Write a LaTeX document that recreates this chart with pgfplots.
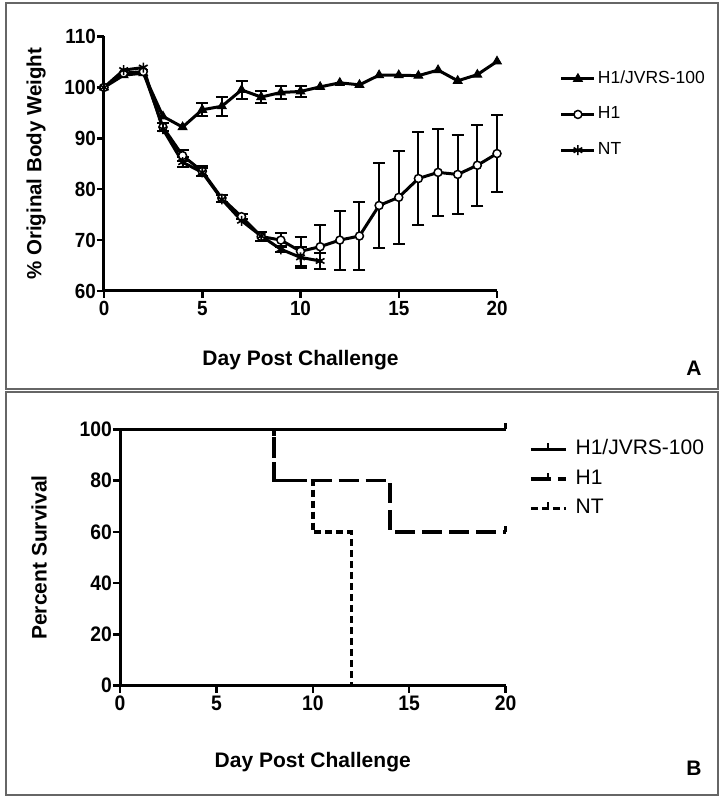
\documentclass[border=0pt]{standalone}
\usepackage{pgfplots}
\pgfplotsset{compat=1.18}
\usepackage{fontspec}
\setmainfont{Liberation Sans}
\newfontfamily\condfont[FakeStretch=0.92]{Liberation Sans}
\pgfdeclareplotmark{uptick}{\pgfpathmoveto{\pgfpointorigin}\pgfpathlineto{\pgfpoint{0pt}{\pgfplotmarksize}}\pgfusepathqstroke}
\pgfplotsset{
  common/.style={
    scale only axis, clip=false,
    axis lines=left, axis line style={line width=3pt,-,black},
    tick align=outside, major tick length=7pt,
    tick style={line width=2.5pt,black},
    /pgf/number format/assume math mode=true,
    xticklabel style={inner sep=3pt},
    yticklabel style={inner sep=1pt},
    label style={font=\fontsize{21}{21}\selectfont\bfseries},
    xmin=0, xmax=20, xtick={0,5,10,15,20},
    legend cell align=left,
  },
  ebar/.style={forget plot, only marks, mark=none,
    error bars/.cd, y dir=both, y explicit,
    error bar style={line width=2pt, solid, draw=black},
    error mark options={rotate=90, mark size=6pt, line width=2pt, black}},
}
\begin{document}
\begin{tikzpicture}
\path[use as bounding box] (0pt,0pt) rectangle (724pt,797pt);
\draw[line width=1.5pt, black!60] (6pt,408pt) rectangle (718pt,794pt);
\draw[line width=1.5pt, black!60] (6pt,2pt) rectangle (718pt,405pt);

% ---------------- Panel A ----------------
\begin{axis}[common,
  at={(104pt,506pt)}, anchor=south west, width=393pt, height=254.5pt,
  tick label style={font=\condfont\fontsize{20.5}{20.5}\selectfont\bfseries},
  ymin=60, ymax=110, ytick={60,70,80,90,100,110},
  xlabel={Day Post Challenge}, ylabel={\% Original Body Weight},
  xlabel style={at={(axis description cs:0.5,-0.271)}, anchor=center},
  ylabel style={at={(axis description cs:-0.173,0.5)}, anchor=center, font=\fontsize{20.5}{20.5}\selectfont\bfseries},
  legend style={at={(axis description cs:1.152,0.876)}, anchor=north west, draw=none, fill=none,
    font=\fontsize{17.5}{17.5}\selectfont,
    nodes={inner sep=0pt, text height=13pt, text depth=4pt}, row sep=18.7pt,
    /tikz/every odd column/.append style={column sep=2pt}},
  legend image code/.code={\draw[mark repeat=2,mark phase=2,#1] plot coordinates {(0pt,0pt) (16.5pt,0pt) (33pt,0pt)};},
]
% error bars
\addplot[ebar] coordinates {(5,95.6) +- (0,1.3) (6,96.3) +- (0,1.9) (7,99.5) +- (0,1.8) (8,98.1) +- (0,1.2) (9,99.0) +- (0,1.2) (10,99.2) +- (0,1.0)};
\addplot[ebar] coordinates {(3,92.2) +- (0,0.8) (4,86.6) +- (0,1.1) (5,83.5) +- (0,1.0) (6,78.2) +- (0,0.7) (7,74.6) +- (0,0.5) (8,70.7) +- (0,0.8) (9,70.0) +- (0,1.4) (10,67.8) +- (0,2.8) (11,68.7) +- (0,4.3) (12,70.0) +- (0,5.8) (13,70.8) +- (0,6.7) (14,76.8) +- (0,8.3) (15,78.4) +- (0,9.1) (16,82.1) +- (0,9.2) (17,83.3) +- (0,8.5) (18,82.9) +- (0,7.8) (19,84.7) +- (0,8.0) (20,87.0) +- (0,7.6)};
\addplot[ebar] coordinates {(4,85.3) +- (0,1.0) (5,83.3) +- (0,0.8) (9,68.2) +- (0,0.6) (10,66.6) +- (0,2.1) (11,65.9) +- (0,1.6)};
% series
\addplot[black, line width=3pt, mark=triangle*, mark size=5pt, mark options={solid, line width=1pt}] coordinates {
(0,100) (1,102.4) (2,102.8) (3,94.3) (4,92.2) (5,95.6) (6,96.3) (7,99.5) (8,98.1) (9,99.0) (10,99.2)
(11,100.1) (12,100.9) (13,100.5) (14,102.4) (15,102.4) (16,102.3) (17,103.4) (18,101.3) (19,102.5) (20,105.1)};
\addlegendentry{H1/JVRS-100}
\addplot[black, line width=3pt, mark=*, mark size=4pt, mark options={solid, fill=white, line width=1.5pt}] coordinates {
(0,100) (1,102.8) (2,103.1) (3,92.2) (4,86.6) (5,83.5) (6,78.2) (7,74.6) (8,70.7) (9,70.0) (10,67.8)
(11,68.7) (12,70.0) (13,70.8) (14,76.8) (15,78.4) (16,82.1) (17,83.3) (18,82.9) (19,84.7) (20,87.0)};
\addlegendentry{H1}
\addplot[black, line width=3pt, mark=asterisk, mark size=5pt, mark options={solid, line width=1.6pt}] coordinates {
(0,100) (1,103.4) (2,103.9) (3,91.8) (4,85.3) (5,83.3) (6,78.0) (7,73.8) (8,70.8) (9,68.2) (10,66.6) (11,65.9)};
\addlegendentry{NT}
\end{axis}
\node[font=\fontsize{21}{21}\selectfont\bfseries] at (694pt,429pt) {A};

% ---------------- Panel B ----------------
\begin{axis}[common,
  at={(120pt,111.3pt)}, anchor=south west, width=385.5pt, height=256.4pt,
  tick label style={font=\condfont\fontsize{21}{21}\selectfont\bfseries},
  ymin=0, ymax=100, ytick={0,20,40,60,80,100},
  xlabel={Day Post Challenge}, ylabel={Percent Survival},
  xlabel style={at={(axis description cs:0.5,-0.298)}, anchor=center},
  ylabel style={at={(axis description cs:-0.210,0.5)}, anchor=center},
  legend style={at={(axis description cs:1.053,0.970)}, anchor=north west, draw=none, fill=none,
    font=\fontsize{21}{21}\selectfont,
    nodes={inner sep=0pt, text height=15.5pt, text depth=5pt}, row sep=9pt,
    /tikz/every odd column/.append style={column sep=8pt}},
  legend image code/.code={\draw[#1] (0pt,0pt) -- (35pt,0pt); \draw[solid, line width=2pt] (17.5pt,0pt) -- (17.5pt,6pt);},
]
\addplot[black, line width=3.5pt, const plot, mark=uptick, mark size=6pt, mark indices={2}, mark options={solid, line width=2.5pt}] coordinates {(0,100) (20,100)};
\addlegendentry{H1/JVRS-100}
\addplot[black, line width=3.5pt, const plot, dash pattern=on 20pt off 7pt, mark=uptick, mark size=6pt, mark indices={4}, mark options={solid, line width=2.5pt}] coordinates {(0,100) (8,80) (14,60) (20,60)};
\addlegendentry{H1}
\addplot[black, line width=3.5pt, const plot, dash pattern=on 7pt off 4pt] coordinates {(0,100) (8,80) (10,60) (12,0)};
\addlegendentry{NT}
\end{axis}
\node[font=\fontsize{21}{21}\selectfont\bfseries] at (694pt,29pt) {B};
\end{tikzpicture}
\end{document}
